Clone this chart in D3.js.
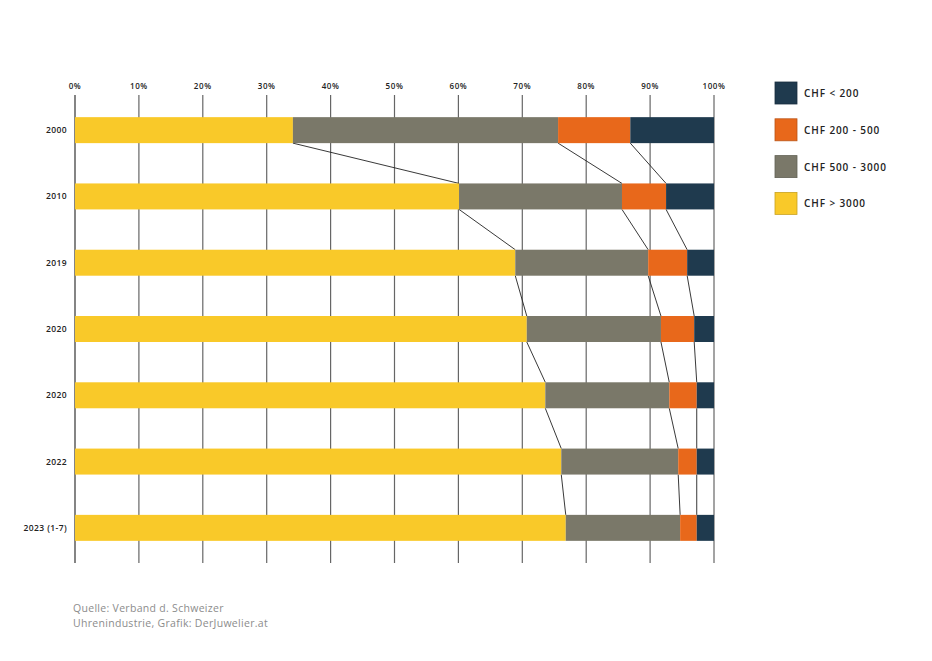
<!DOCTYPE html>
<html><head><meta charset="utf-8">
<script src="https://cdn.jsdelivr.net/npm/d3@7"></script>
<style>
html,body{margin:0;padding:0;background:#fff;}
svg{display:block;}
text{font-family:"Open Sans","DejaVu Sans",sans-serif;}
</style></head>
<body>
<svg id="chart" width="932" height="661"></svg>
<script>
// ---- data ----
const categories = ["2000","2010","2019","2020","2020","2022","2023 (1-7)"];
const seriesNames = ["CHF > 3000","CHF 500 - 3000","CHF 200 - 500","CHF < 200"];
const over3000   = [34.1, 60.1, 68.9, 70.7, 73.6, 76.1, 76.8];
const from500    = [41.5, 25.5, 20.8, 21.0, 19.4, 18.3, 17.9];
const from200    = [11.3,  6.9,  6.1,  5.2,  4.3,  2.9,  2.6];
const under200   = [13.1,  7.5,  4.2,  3.1,  2.7,  2.7,  2.7];
const tickValues = [0,10,20,30,40,50,60,70,80,90,100];
const legendOrder = ["CHF < 200","CHF 200 - 500","CHF 500 - 3000","CHF > 3000"];
const sourceLines = ["Quelle: Verband d. Schweizer","Uhrenindustrie, Grafik: DerJuwelier.at"];

const colors = {"CHF > 3000":"#F9C929","CHF 500 - 3000":"#7A7869","CHF 200 - 500":"#E8681B","CHF < 200":"#1F3A4E"};

const rows = categories.map((c,i)=>({i, cat:c, vals:[over3000[i],from500[i],from200[i],under200[i]]}));
rows.forEach(r=>{
  let acc=0;
  r.segs = r.vals.map((v,k)=>{const s={name:seriesNames[k],x0:acc,x1:acc+v}; acc+=v; return s;});
});

const svg = d3.select("#chart");
const x = d3.scaleLinear().domain([0,100]).range([75,714]);
const y = d3.scaleBand().domain(d3.range(categories.length)).range([97,561]).paddingInner(0.608).paddingOuter(0.304);

// gridlines
svg.append("g").selectAll("line").data(tickValues).join("line")
  .attr("x1",d=>x(d)).attr("x2",d=>x(d)).attr("y1",95).attr("y2",563)
  .attr("stroke",d=>d===0?"#333":"#666").attr("stroke-width",1.2);

// tick labels
svg.append("g").selectAll("text").data(tickValues).join("text")
  .attr("x",d=>x(d)).attr("y",89).attr("text-anchor","middle")
  .attr("font-size",8).attr("font-weight",600).attr("fill","#222").attr("letter-spacing",0.6)
  .text(d=>d+"%");

// connectors
const conn = svg.append("g");
for(let i=0;i<rows.length-1;i++){
  for(let k=0;k<3;k++){
    conn.append("line")
      .attr("x1",x(rows[i].segs[k].x1)).attr("y1",y(i)+y.bandwidth())
      .attr("x2",x(rows[i+1].segs[k].x1)).attr("y2",y(i+1))
      .attr("stroke","#222").attr("stroke-width",0.9);
  }
}

// bars
const g = svg.append("g");
rows.forEach(r=>{
  g.selectAll(null).data(r.segs).join("rect")
    .attr("x",d=>x(d.x0)).attr("width",d=>x(d.x1)-x(d.x0))
    .attr("y",y(r.i)).attr("height",y.bandwidth())
    .attr("fill",d=>colors[d.name]);
});

// y labels
svg.append("g").selectAll("text").data(rows).join("text")
  .attr("x",67).attr("y",d=>y(d.i)+y.bandwidth()/2+3)
  .attr("text-anchor","end").attr("font-size",8.5).attr("font-weight",600).attr("fill","#222").attr("letter-spacing",0.4)
  .text(d=>d.cat);

// legend
const lg = svg.append("g").selectAll("g").data(legendOrder).join("g")
  .attr("transform",(d,i)=>`translate(775,${82+i*36.8})`);
lg.append("rect").attr("width",22).attr("height",22).attr("fill",d=>colors[d])
  .attr("stroke",d=>d3.color(colors[d]).darker(0.6)).attr("stroke-width",0.8);
lg.append("text").attr("x",29).attr("y",15).attr("font-size",10).attr("font-weight",600).attr("fill","#222").attr("letter-spacing",0.9).text(d=>d);

// source
svg.append("g").selectAll("text").data(sourceLines).join("text")
  .attr("x",73).attr("y",(d,i)=>612+i*14.5).attr("font-size",10.5).attr("fill","#8c8c8c").attr("letter-spacing",0.3)
  .text(d=>d);
</script>
</body></html>
